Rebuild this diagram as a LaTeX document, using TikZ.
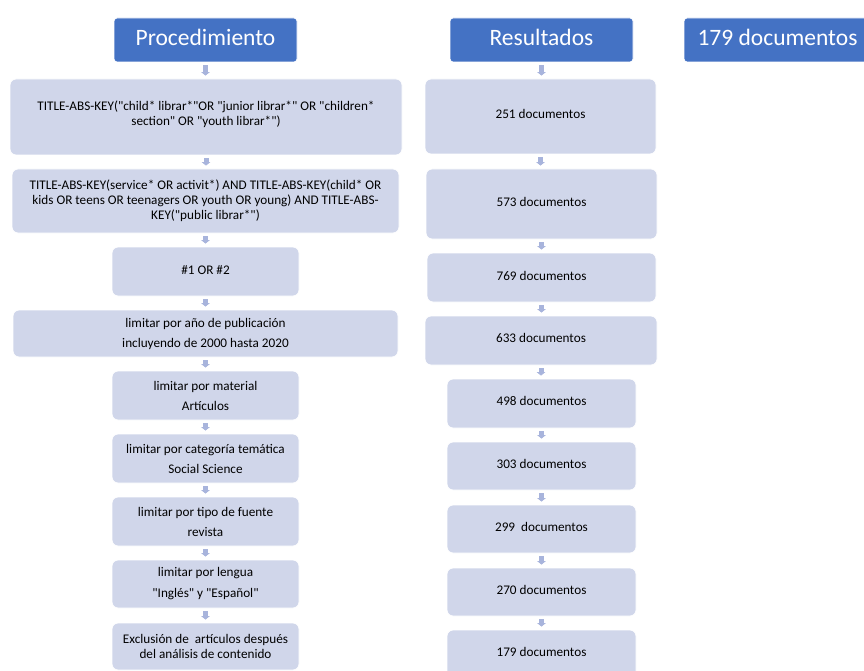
\documentclass[tikz,border=0pt]{standalone}
\usepackage{fontspec}
\setmainfont{Carlito}
\usetikzlibrary{arrows.meta,calc}
\definecolor{hdr}{HTML}{4472C4}
\definecolor{boxfill}{HTML}{D0D6EA}
\definecolor{arrowc}{HTML}{A8B4DC}
\newcommand{\qq}{\textquotedbl}
\tikzset{
  hdrbox/.style={fill=hdr, draw=white, line width=0.8pt, rounded corners=3pt, text=white,
    font=\fontsize{23.5}{26}\selectfont, inner sep=0pt},
  ibox/.style={fill=boxfill, draw=white, line width=0.8pt, rounded corners=6pt, text=black,
    font=\fontsize{13.2}{15}\selectfont, align=center, inner sep=0pt},
  wide/.style={font=\fontsize{13.2}{20}\selectfont},
  txt/.style={align=center, font=\fontsize{13.2}{15}\selectfont, inner sep=0pt},
  htxt/.style={text=white, font=\fontsize{23.5}{26}\selectfont},
  conn/.style={draw=arrowc, line width=5pt, -{Triangle[width=8.5pt,length=3.5pt]},
    shorten <=3pt, shorten >=3pt},
}
\begin{document}
\begin{tikzpicture}[x=1pt,y=-1pt]
\useasboundingbox (0,0) rectangle (864,671);
% headers
\node[hdrbox, minimum width=183pt, minimum height=44pt] (hp) at (205.5,40) {};
\node[htxt] at (205.5,37) {Procedimiento};
\node[hdrbox, minimum width=183pt, minimum height=44pt] (hr) at (541.5,40) {};
\node[htxt] at (541.5,37) {Resultados};
\node[hdrbox, minimum width=184pt, minimum height=44pt] (hd) at (776,40) {};
\node[htxt] at (777.5,37) {179 documentos};
% left column
\node[ibox, minimum width=392pt, minimum height=76pt] (l1) at (206,117) {};
\node[txt] at (206,114) {TITLE-ABS-KEY(\qq child* librar*\qq OR \qq junior librar*\qq{} OR \qq children*\\section\qq{} OR \qq youth librar*\qq)};
\node[ibox, minimum width=387pt, minimum height=64pt] (l2) at (205.5,201) {TITLE-ABS-KEY(service* OR activit*) AND TITLE-ABS-KEY(child* OR\\kids OR teens OR teenagers OR youth OR young) AND TITLE-ABS-\\KEY(\qq public librar*\qq)};
\node[ibox, minimum width=187pt, minimum height=49pt] (l3) at (205.5,271.5) {};
\node[txt] at (205.5,270) {\#1 OR \#2};
\node[ibox, wide, minimum width=385pt, minimum height=47pt] (l4) at (205.5,333.5) {limitar por año de publicación\\incluyendo de 2000 hasta 2020};
\node[ibox, wide, minimum width=187pt, minimum height=49pt] (l5) at (205.5,395.5) {limitar por material\\Artículos};
\node[ibox, wide, minimum width=187pt, minimum height=49pt] (l6) at (205.5,458.5) {limitar por categoría temática\\Social Science};
\node[ibox, wide, minimum width=187pt, minimum height=49pt] (l7) at (205.5,521.5) {limitar por tipo de fuente\\revista};
\node[ibox, font=\fontsize{13.2}{21}\selectfont, minimum width=187pt, minimum height=48pt] (l8) at (205.5,584) {limitar por lengua\\ \qq Inglés\qq{} y \qq Español\qq};
\node[ibox, minimum width=187pt, minimum height=47pt] (l9) at (205.5,646.5) {Exclusión de\ \ artículos después\\del análisis de contenido};
% right column
\node[ibox, minimum width=231pt, minimum height=75pt] (r1) at (540.5,116.5) {};
\node[txt] at (540.5,114) {251 documentos};
\node[ibox, minimum width=231pt, minimum height=70pt] (r2) at (541.5,204) {};
\node[txt] at (541.5,202) {573 documentos};
\node[ibox, minimum width=229pt, minimum height=49pt] (r3) at (541.5,277.5) {};
\node[txt] at (541.5,276) {769 documentos};
\node[ibox, minimum width=232pt, minimum height=49pt] (r4) at (541,340.5) {};
\node[txt] at (541,338) {633 documentos};
\node[ibox, minimum width=189pt, minimum height=49pt] (r5) at (541.5,403.5) {};
\node[txt] at (541.5,401) {498 documentos};
\node[ibox, minimum width=189pt, minimum height=48pt] (r6) at (541.5,466) {};
\node[txt] at (541.5,464) {303 documentos};
\node[ibox, minimum width=189pt, minimum height=48pt] (r7) at (541.5,529) {};
\node[txt] at (541.5,527) {299\ \ documentos};
\node[ibox, minimum width=189pt, minimum height=48pt] (r8) at (541.5,592) {};
\node[txt] at (541.5,590) {270 documentos};
\node[ibox, minimum width=189pt, minimum height=48pt] (r9) at (541.5,654) {};
\node[txt] at (541.5,652) {179 documentos};
% connectors
\foreach \a/\b in {hp/l1,l1/l2,l2/l3,l3/l4,l4/l5,l5/l6,l6/l7,l7/l8,l8/l9,
                   hr/r1,r1/r2,r2/r3,r3/r4,r4/r5,r5/r6,r6/r7,r7/r8,r8/r9}
  \draw[conn] (\a.south) -- (\a.south |- \b.north);
\end{tikzpicture}
\end{document}
